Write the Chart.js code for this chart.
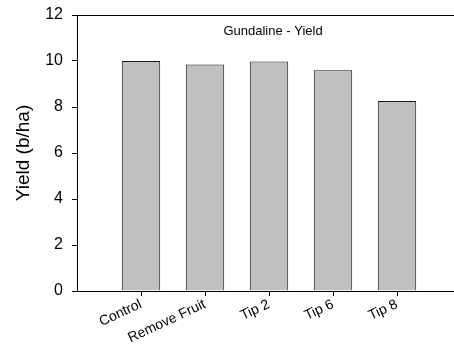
<!DOCTYPE html>
<html>
<head>
<meta charset="utf-8">
<script src="https://cdn.jsdelivr.net/npm/chart.js@4/dist/chart.umd.min.js"></script>
<style>
  html, body { margin: 0; padding: 0; background: #fff; overflow: hidden; width: 454px; height: 349px; }
  canvas { display: block; }
</style>
</head>
<body>
<canvas id="c" width="461" height="349"></canvas>
<script>
// Treatments and yield (b/ha)
const categories = ['Control', 'Remove Fruit', 'Tip 2', 'Tip 6', 'Tip 8'];
const yieldValues = [10.0, 9.85, 9.98, 9.6, 8.26];
const yTicks = [0, 2, 4, 6, 8, 10, 12];
const chartTitle = 'Gundaline - Yield';
const yTitle = 'Yield (b/ha)';

const FONT = "'Liberation Sans', Arial, Helvetica, sans-serif";

// Title inside the plot, plus the top frame line
const framePlugin = {
  id: 'frame',
  afterDraw(chart) {
    const { ctx, chartArea } = chart;
    ctx.save();
    ctx.strokeStyle = '#000';
    ctx.lineWidth = 1;
    ctx.beginPath();
    ctx.moveTo(chartArea.left, chartArea.top + 0.5);
    ctx.lineTo(chartArea.right, chartArea.top + 0.5);
    ctx.stroke();
    ctx.fillStyle = '#000';
    ctx.font = '13px ' + FONT;
    ctx.textAlign = 'center';
    ctx.textBaseline = 'middle';
    ctx.fillText(chartTitle, (chartArea.left + chartArea.right) / 2 + 4, chartArea.top + 16);
    ctx.restore();
  }
};

new Chart(document.getElementById('c'), {
  type: 'bar',
  data: {
    datasets: [{
      data: categories.map((c, i) => ({ x: i, y: yieldValues[i] })),
      backgroundColor: '#c0c0c0',
      borderColor: '#1a1a1a',
      borderWidth: 1,
      borderSkipped: 'bottom',
      categoryPercentage: 1,
      barPercentage: 0.6
    }]
  },
  options: {
    responsive: false,
    animation: false,
    layout: { padding: { top: 15, right: 0, left: 0, bottom: 0 } },
    plugins: { legend: { display: false }, tooltip: { enabled: false } },
    scales: {
      x: {
        type: 'linear',
        min: -1,
        max: 5,
        offset: false,
        afterBuildTicks(scale) {
          scale.ticks = categories.map((c, i) => ({ value: i }));
        },
        afterFit(scale) { scale.height = 58; scale.paddingRight = 0; scale.paddingLeft = 0; },
        grid: { drawOnChartArea: false, drawTicks: true, tickLength: 5, color: '#000', offset: false },
        border: { display: true, color: '#000', width: 1 },
        ticks: {
          autoSkip: false,
          maxRotation: 25,
          minRotation: 25,
          padding: 0,
          color: '#000',
          font: { family: FONT, size: 14 },
          callback: (v) => categories[v]
        }
      },
      y: {
        min: 0,
        max: 12,
        afterBuildTicks(scale) {
          scale.ticks = yTicks.map(v => ({ value: v }));
        },
        afterFit(scale) { scale.width = 77; scale.paddingTop = 0; scale.paddingBottom = 0; },
        grid: { drawOnChartArea: false, drawTicks: true, tickLength: 5, color: '#000' },
        border: { display: true, color: '#000', width: 1 },
        ticks: {
          padding: 9,
          color: '#000',
          font: { family: FONT, size: 16 }
        },
        title: {
          display: true,
          text: yTitle,
          color: '#000',
          font: { family: FONT, size: 19 },
          padding: { top: 12, bottom: 0 }
        }
      }
    }
  },
  plugins: [framePlugin]
});
</script>
</body>
</html>
